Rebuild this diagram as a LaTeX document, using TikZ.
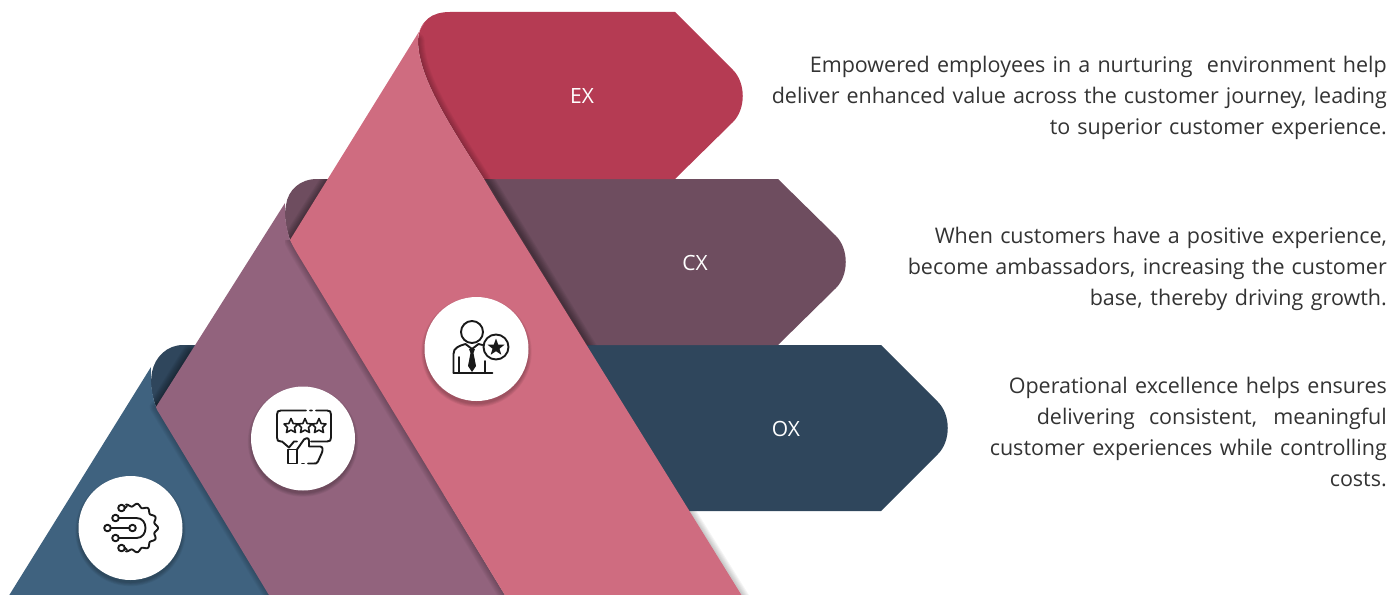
\documentclass[tikz,border=0pt]{standalone}
\usepackage{fontspec}
\setmainfont{Open Sans}
\usetikzlibrary{calc}
\definecolor{exc}{HTML}{B53B53}
\definecolor{cxc}{HTML}{6E4D5F}
\definecolor{oxc}{HTML}{2F465C}
\definecolor{pinkc}{HTML}{CF6C80}
\definecolor{mauvec}{HTML}{92637D}
\definecolor{bluec}{HTML}{3F627F}
\tikzset{x=1pt,y=-1pt,
 disc/.style={circle,fill=white,minimum size=104pt,inner sep=0pt},
 tag/.style={text=white,font=\fontsize{21}{25}\selectfont},
 para/.style={anchor=east,align=right,inner sep=0pt,text=black!80,font=\fontsize{21.5}{31}\selectfont},
 ico/.style={line width=1.9pt,black!90,line join=round,line cap=round}}
\newcommand{\softline}[3]{\foreach \w in {1,3,...,#3}{\draw[black,opacity=#2,line width=\w pt,line cap=round,line join=round] #1;}}
\newcommand{\lnfit}[2]{\makebox[#1pt][s]{#2}}
\newcommand{\discshadow}[2]{\foreach \r in {52,52.8,...,56}{\fill[black,opacity=.05] (#1,#2+3) circle[radius=\r];}}
\def\oxflap{(156,407) .. controls (151,392) and (150,385) .. (152,372) .. controls (155,357) and (167,345) .. (183,345)}
\def\cxflap{(290,240) .. controls (285,225) and (284,215) .. (286,205) .. controls (288,190) and (300,179) .. (317,179)}
\def\exfold{(484,179) .. controls (445,118) and (418,75) .. (418,40)}
\begin{document}
\begin{tikzpicture}
\useasboundingbox (0,0) rectangle (1394,594);
\path[clip] (0,0) rectangle (1394,594);
% arrows
\fill[oxc] \oxflap --(881,345)--(938,402) .. controls (951,415) and (951,441) .. (938,454)--(881,511)--(500,511)--cycle;
\fill[cxc] \cxflap --(778,179)--(836,236) .. controls (849,249) and (849,275) .. (836,288)--(778,345)--(500,345)--cycle;
\fill[exc] \exfold .. controls (420,20) and (432,12) .. (450,12)--(675,12)--(733,70) .. controls (746,83) and (746,109) .. (733,122)--(675,179)--cycle;
\node[tag] (ex) at (582,96) {EX};
\node[tag] (cx) at (695,263) {CX};
\node[tag] (ox) at (786,429) {OX};
% shadows on flaps and arrows
\begin{scope}
\clip \oxflap --(881,345)--(881,511)--(500,511)--cycle;
\softline{(156,407)--(190,352)}{.05}{15}
\softline{(570,340)--(680,520)}{.05}{15}
\end{scope}
\begin{scope}
\clip \cxflap --(778,179)--(778,345)--(500,345)--cycle;
\softline{(290,240)--(333,172)}{.05}{15}
\softline{(484,175)--(600,365)}{.05}{15}
\end{scope}
\begin{scope}
\clip \exfold .. controls (420,20) and (432,12) .. (450,12)--(560,12)--(560,179)--cycle;
\softline{\exfold}{.04}{13}
\end{scope}
% blue band
\fill[bluec] (0,610)--(151,367) .. controls (150,382) and (152,396) .. (156,407)--(288,625)--cycle;
% mauve band, shadow on blue
\begin{scope}
\clip (0,368) rectangle (300,594);
\softline{(156,407)--(285,620)}{.035}{13}
\end{scope}
\fill[mauvec] (285,203) .. controls (284,218) and (287,230) .. (290,240)--(520,620)--(284,620)--(159,413) .. controls (157,410) and (156,408) .. (156,407)--cycle;
% pink band, shadow on mauve
\begin{scope}
\clip (285,240) rectangle (520,594);
\softline{(290,240)--(297,253)--(510,604)}{.035}{13}
\end{scope}
\begin{scope}
\clip (680,511) rectangle (770,594);
\softline{(690,511)--(750,607)}{.04}{11}
\end{scope}
\fill[pinkc] (425,22) .. controls (420,27) and (418,33) .. (418,40) .. controls (418,75) and (445,118) .. (484,179)--(496,199)--(757,620)--(520,620)--(297,253) .. controls (294,248) and (292,244) .. (290,240)--cycle;
% discs
\discshadow{476.5}{349}
\discshadow{303}{438.5}
\discshadow{130.5}{528}
\node[disc] (d1) at (476.5,349) {};
\node[disc] (d2) at (303,438.5) {};
\node[disc] (d3) at (130.5,528) {};
% person icon
\begin{scope}[shift={(d1.center)},ico]
\draw (-4.5,-17) circle[radius=11];
\draw (-23,24)--(16,24);
\draw (-23,24)--(-23,5) .. controls (-23,-1) and (-18,-3) .. (-11,-5);
\draw (2,-5)--(6,-4);
\draw (-17.5,24)--(-17.5,8) (8.5,24)--(8.5,12);
\draw (-11,-5)--(-4.5,0)--(2,-5);
\fill (-7.5,0)--(-1.5,0)--(-3,4)--(-0.5,17)--(-4.5,23)--(-8.5,17)--(-6,4)--cycle;
\draw (19.5,-2) circle[radius=12.5];
\fill (19.5,-10.5) -- (21.7,-4.5) -- (28,-4.3) -- (23,-0.3) -- (24.8,5.7) -- (19.5,2.2) -- (14.2,5.7) -- (16,-0.3) -- (11,-4.3) -- (17.3,-4.5) -- cycle;
\end{scope}
% rating icon
\begin{scope}[shift={(d2.center)},ico]
\draw (3,-28)--(-22,-28) .. controls (-25,-28) and (-26,-27) .. (-26,-24)--(-26,-1) .. controls (-26,2) and (-25,3) .. (-22,3)--(-21,3)--(-14,9)--(-9,3)--(-6,3);
\draw (7,-28)--(9,-28) (13,-28)--(24,-28) .. controls (27,-28) and (28,-27) .. (28,-24)--(28,-1) .. controls (28,2) and (27,3) .. (24,3)--(8,3);
\foreach \c in {-12,2,16}{
\draw[line width=1.6pt] (\c,-20)--(\c+2.2,-15)--(\c+7,-14.5)--(\c+3.5,-11)--(\c+4.5,-6)--(\c,-8.5)--(\c-4.5,-6)--(\c-3.5,-11)--(\c-7,-14.5)--(\c-2.2,-15)--cycle;}
\draw (-15,11)--(-6,11)--(-6,25)--(-15,25)--cycle;
\draw (-6,11)--(1,1) .. controls (2,-1) and (6,-1) .. (6,2)--(6,8)--(17,8) .. controls (20,8) and (20,11) .. (19,14)--(15,23) .. controls (14,25) and (13,25) .. (11,25)--(5,25);
\draw (-1,25)--(1,25);
\end{scope}
% gear icon
\begin{scope}[shift={(d3.center)},ico]
\draw plot[domain=-108:108,samples=160,smooth] ({3+(23+1.5*cos(13.33*\x))*cos(\x)},{(23+1.5*cos(13.33*\x))*sin(\x)});
\draw (-5.8,-19.8)--(-3.5,-21.8) (-5.8,19.8)--(-3.5,21.8);
\draw (-9,-20) circle[radius=3.3];
\draw (-9,20) circle[radius=3.3];
\draw (-15,-10) circle[radius=3.3];
\draw (-15,10) circle[radius=3.3];
\draw (-23,0) circle[radius=3.3];
\draw (-11.7,-10)--(6,-10) .. controls (12,-10) and (15,-5) .. (15,0) .. controls (15,5) and (12,10) .. (6,10)--(-11.7,10);
\draw (-19.7,0)--(-1.3,0);
\draw (2,0) circle[radius=3.3];
\end{scope}
% text
\node[para] (t1) at (1387,98) {\lnfit{577}{Empowered employees in a nurturing\ \ environment help}\\\lnfit{615}{deliver enhanced value across the customer journey, leading}\\\lnfit{337}{to superior customer experience.}};
\node[para] (t2) at (1387,268.5) {\lnfit{452}{When customers have a positive experience,}\\\lnfit{479}{become ambassadors, increasing the customer}\\\lnfit{297}{base, thereby driving growth.}};
\node[para] (t3) at (1387,432) {\lnfit{378}{Operational excellence helps ensures}\\\lnfit{350}{delivering consistent, meaningful}\\\lnfit{397}{customer experiences while controlling}\\costs.};
\end{tikzpicture}
\end{document}
